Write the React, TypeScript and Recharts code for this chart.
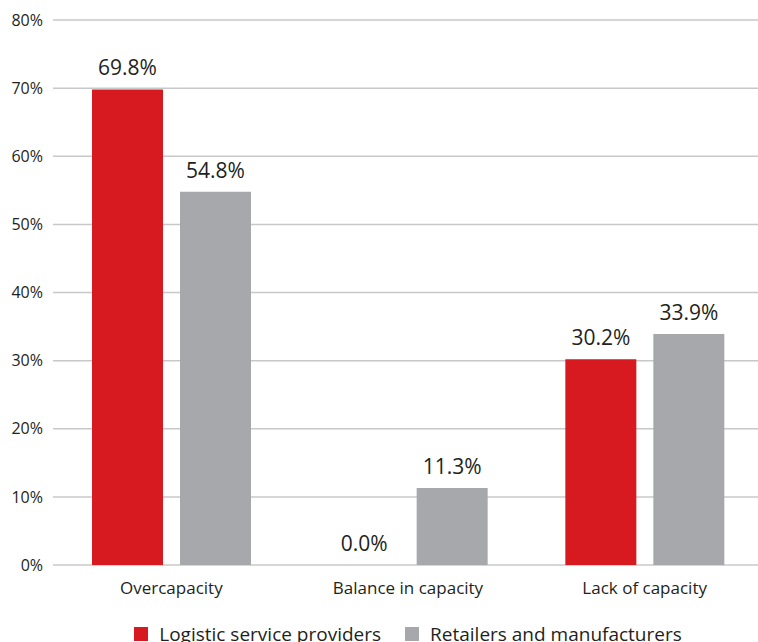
import React from 'react';
import { BarChart, Bar, XAxis, YAxis, CartesianGrid, Legend, LabelList } from 'recharts';

const categories = ['Overcapacity', 'Balance in capacity', 'Lack of capacity'];
const logisticProviders = [69.8, 0.0, 30.2];
const retailersManufacturers = [54.8, 11.3, 33.9];
const yTicks = [0, 10, 20, 30, 40, 50, 60, 70, 80];

const RED = '#d71920';
const GRAY = '#a7a8ab';
const TEXT = '#231f20';
const FONT = '"Open Sans", sans-serif';

const seriesInfo = [
    { key: 'logistic', name: 'Logistic service providers', color: RED },
    { key: 'retail', name: 'Retailers and manufacturers', color: GRAY },
];

const chartData = categories.map((name, i) => ({
    name,
    logistic: logisticProviders[i],
    retail: retailersManufacturers[i],
}));

const fmt = (v: number) => `${v.toFixed(1)}%`;

// value label drawn above each bar, also for the zero-height one
const renderValueLabel = (props: any) => {
    const { x, y, width, value } = props;
    if (value == null) return null;
    return (
        <text
            x={Number(x) + Number(width) / 2}
            y={Number(y) - 14}
            textAnchor="middle"
            fill={TEXT}
            fontSize={21}
            fontFamily={FONT}
        >
            {fmt(Number(value))}
        </text>
    );
};

const LegendContent = () => (
    <div
        style={{
            display: 'flex',
            justifyContent: 'center',
            alignItems: 'flex-start',
            height: 40,
            paddingLeft: 53,
            fontFamily: FONT,
            fontSize: 19,
            color: TEXT,
        }}
    >
        {seriesInfo.map((s, i) => (
            <div
                key={s.key}
                style={{ display: 'flex', alignItems: 'center', height: 28, marginLeft: i === 0 ? 0 : 24 }}
            >
                <span style={{ display: 'inline-block', width: 14, height: 14, background: s.color, marginRight: 11 }} />
                <span style={{ lineHeight: '28px' }}>{s.name}</span>
            </div>
        ))}
    </div>
);

const App: React.FC = () => {
    return (
        <div style={{ width: 758, height: 642, overflow: 'hidden', background: '#fff' }}>
            <style>{'html, body { margin: 0; padding: 0; overflow: hidden; }'}</style>
            <BarChart
                width={790}
                height={660}
                data={chartData}
                margin={{ top: 20, right: 27, bottom: 0, left: 0 }}
                barSize={71}
                barGap={17}
            >
                <CartesianGrid vertical={false} stroke="#c8c8c8" strokeWidth={1.5} />
                <XAxis
                    dataKey="name"
                    axisLine={false}
                    tickLine={false}
                    tickSize={0}
                    tickMargin={17}
                    height={55}
                    tick={{ fill: TEXT, fontSize: 17, fontFamily: FONT }}
                />
                <YAxis
                    domain={[0, 80]}
                    ticks={yTicks}
                    width={53}
                    axisLine={false}
                    tickLine={false}
                    tickSize={0}
                    tickMargin={10}
                    tickFormatter={(v) => `${v}%`}
                    tick={{ fill: TEXT, fontSize: 16, fontFamily: FONT }}
                />
                <Legend verticalAlign="bottom" content={<LegendContent />} />
                {seriesInfo.map((s) => (
                    <Bar
                        key={s.key}
                        dataKey={s.key}
                        name={s.name}
                        fill={s.color}
                        minPointSize={0.01}
                        isAnimationActive={false}
                    >
                        <LabelList dataKey={s.key} content={renderValueLabel} />
                    </Bar>
                ))}
            </BarChart>
        </div>
    );
};

export default App;
